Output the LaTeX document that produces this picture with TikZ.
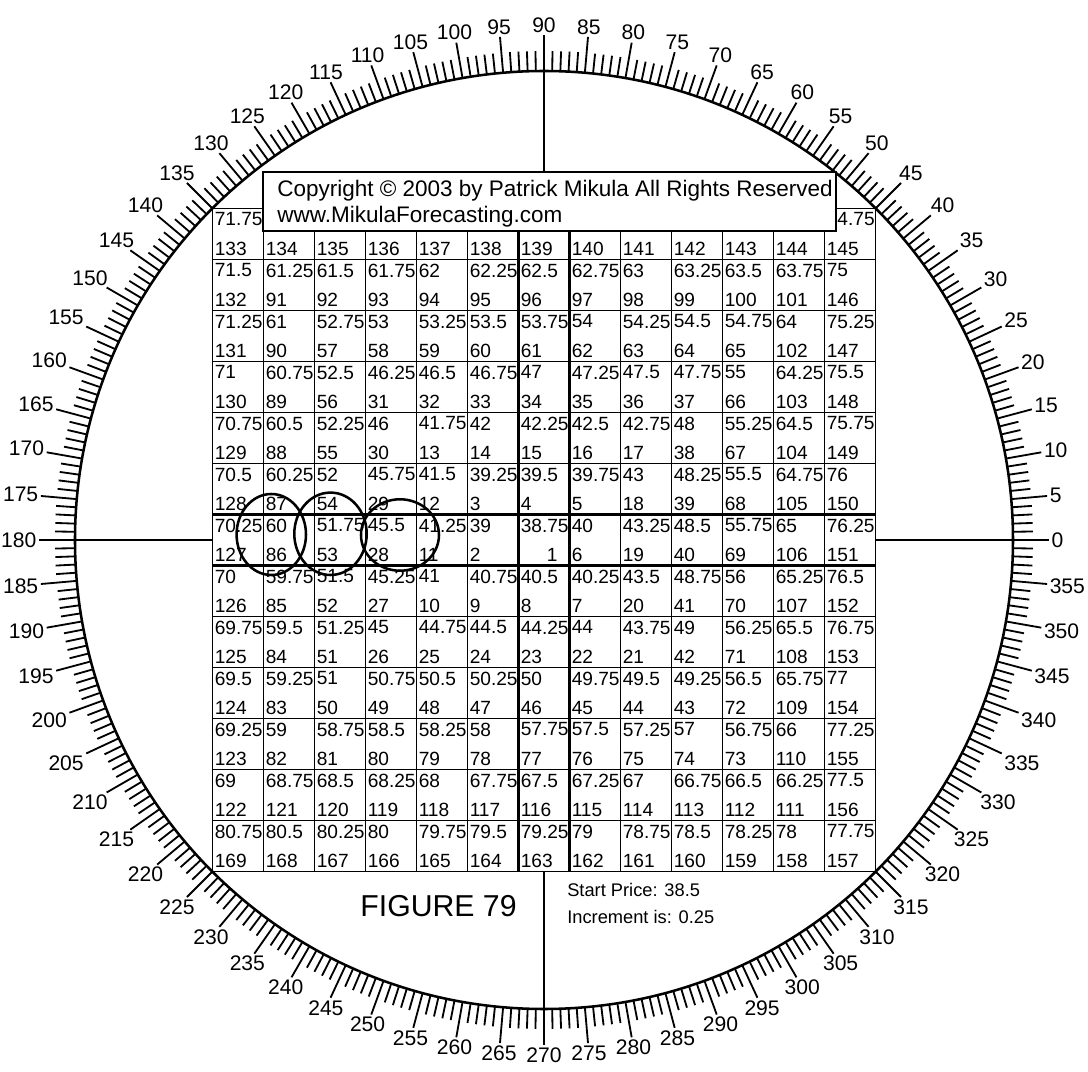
\documentclass[tikz,border=0pt]{standalone}
\usepackage{fontspec}
\setmainfont{Liberation Sans}
\usepackage{tikz}

\begin{document}
\begin{tikzpicture}[x=0.025cm, y=0.025cm,
  ring/.style={line width=1.8pt},
  tickline/.style={line width=1.3pt},
  degtxt/.style={font=\fontsize{15}{16}\selectfont, inner sep=1pt},
  gridline/.style={line width=1.2pt},
  midline/.style={line width=1.9pt},
  cross/.style={line width=1.2pt},
  hilite/.style={line width=1.8pt},
  pricetxt/.style={font=\fontsize{13.6}{15}\selectfont, inner sep=0pt, anchor=north west},
  idxtxt/.style={font=\fontsize{13.6}{15}\selectfont, inner sep=0pt, anchor=south west},
  copytxt/.style={font=\fontsize{16}{18}\selectfont, inner sep=0pt, anchor=base west},
  figtxt/.style={font=\fontsize{21.5}{24}\selectfont, inner sep=0pt, anchor=base},
  infotxt/.style={font=\fontsize{13}{15}\selectfont, inner sep=0pt, anchor=base west},
]
  \useasboundingbox (-544,-532) rectangle (544,540);
  \fill[white] (-544,-532) rectangle (544,540);

  % Degree ring
  \draw[ring] (0,0) circle (469);
  \foreach \a in {0,...,359} {
    \pgfmathtruncatemacro\five{mod(\a,5)}
    \ifnum\five=0
      \draw[tickline] (\a:469) -- (\a:505);
    \else
      \draw[tickline] (\a:469) -- (\a:489);
    \fi
  }
  \foreach \a in {0,5,...,355} {
    \pgfmathtruncatemacro\opp{mod(\a+180,360)}
    \node[degtxt, anchor=\opp] (deg\a) at (\a:506) {\a};
  }

  % Grid lines
  \foreach \i in {0,...,13} {
    \draw[gridline] (-331.5+51*\i,-331.5) -- (-331.5+51*\i,331.5);
    \draw[gridline] (-331.5,-331.5+51*\i) -- (331.5,-331.5+51*\i);
  }
  \draw[midline] (-331.5,25.5) -- (331.5,25.5);
  \draw[midline] (-331.5,-25.5) -- (331.5,-25.5);
  \draw[midline] (-25.5,-331.5) -- (-25.5,331.5);
  \draw[midline] (25.5,-331.5) -- (25.5,331.5);

  % Square of nine cells
  \foreach \r in {0,...,12} {
    \foreach \c in {0,...,12} {
      \pgfmathtruncatemacro\dx{\c-6}
      \pgfmathtruncatemacro\dy{6-\r}
      \pgfmathtruncatemacro\k{max(abs(\dx),abs(\dy))}
      \pgfmathtruncatemacro\base{(2*\k-1)*(2*\k-1)}
      \pgfmathtruncatemacro\n{\k==0 ? 1 : ((\dx==-\k && \dy>-\k) ? \base+(\dy)+\k : (\dy==\k ? \base+3*\k+(\dx) : (\dx==\k ? \base+5*\k-(\dy) : \base+7*\k-(\dx))))}
      \pgfmathtruncatemacro\pint{(154+\n)/4}
      \pgfmathtruncatemacro\prem{mod(154+\n,4)}
      \pgfmathtruncatemacro\hide{(\r==0 && \c>0) ? 1 : 0}
      \pgfmathsetmacro\cx{-331.5+51*\c}
      \pgfmathsetmacro\cy{331.5-51*\r}
      \ifnum\hide=0
        \node[pricetxt] (p\n) at (\cx+2,\cy-4) {\pint\ifcase\prem\or.25\or.5\or.75\fi};
      \else
        \ifnum\c=12
          \node[pricetxt] (p\n) at (\cx+12.7,\cy-4) {4.75};
        \fi
      \fi
      \ifnum\n=1
        \node[idxtxt] (i\n) at (\cx+28,\cy-47) {\n};
      \else
        \node[idxtxt] (i\n) at (\cx+2,\cy-47) {\n};
      \fi
    }
  }

  % Copyright box
  \node[draw, fill=white, line width=1.1pt, minimum width=14.325cm, minimum height=1.475cm, inner sep=0pt] (copybox) at (5.5,338.5) {};
  \node[copytxt] (copy1) at (-267,343) {Copyright © 2003 by Patrick Mikula All Rights Reserved};
  \node[copytxt] (copy2) at (-267,317) {www.MikulaForecasting.com};

  % Cross lines
  \coordinate (ctop) at (90:469);
  \coordinate (cbot) at (270:469);
  \coordinate (cleft) at (180:469);
  \coordinate (cright) at (0:469);
  \coordinate (gridS) at (0,-331.5);
  \coordinate (gridW) at (-331.5,0);
  \coordinate (gridE) at (331.5,0);
  \draw[cross] (ctop) -- (copybox.north -| ctop);
  \draw[cross] (cbot) -- (gridS);
  \draw[cross] (cleft) -- (gridW);
  \draw[cross] (cright) -- (gridE);

  % Circles
  \draw[hilite] (-272.7,5.5) ellipse [x radius=34.7, y radius=40.5];
  \draw[hilite] (-213.5,6.2) ellipse [x radius=36.2, y radius=41.2];
  \draw[hilite] (-144,5) ellipse [x radius=39, y radius=35.7];

  % Labels
  \node[figtxt] (figlbl) at (-105.5,-377) {FIGURE 79};
  \node[infotxt] (startp) at (23,-357) {Start Price: 38.5};
  \node[infotxt] (incr) at (23,-384) {Increment is: 0.25};
\end{tikzpicture}
\end{document}
